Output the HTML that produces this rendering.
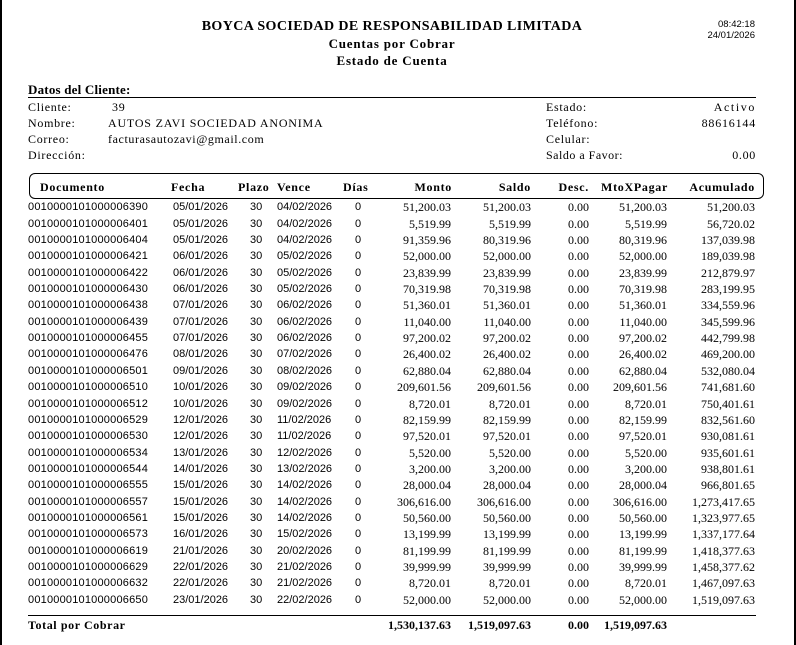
<!DOCTYPE html>
<html>
<head>
<meta charset="utf-8">
<style>
html,body{margin:0;padding:0;}
body{width:796px;height:645px;background:#fff;position:relative;overflow:hidden;color:#000;font-family:"Liberation Serif",serif;}
.a{position:absolute;white-space:nowrap;line-height:16px;}
.bl{position:absolute;left:0;top:0;width:2px;height:645px;background:#000;}
.br{position:absolute;left:794px;top:0;width:2px;height:645px;background:#000;}
.t1{left:0;width:784px;text-align:center;font-weight:bold;font-size:14px;letter-spacing:0.4px;}
.t2{left:0;width:784px;text-align:center;font-weight:bold;font-size:13px;letter-spacing:0.8px;}
.tm{font-family:"Liberation Sans",sans-serif;font-size:9.5px;right:41px;}
.lb{font-size:12px;letter-spacing:0.7px;}
.hline{position:absolute;height:1px;background:#000;}
.box{position:absolute;left:29px;top:173px;width:735px;height:26px;box-sizing:border-box;border:1px solid #000;border-radius:6px;}
.h{font-weight:bold;font-size:12px;letter-spacing:0.7px;top:178.7px;}
.r{position:absolute;left:0;width:796px;height:16px;}
.r span{position:absolute;white-space:nowrap;line-height:16px;top:0;}
.s{font-family:"Liberation Sans",sans-serif;font-size:11px;}
.d{left:28px;letter-spacing:0.2px;}
.f{left:173px;}
.p{left:250px;}
.v{left:277px;}
.di{left:355px;}
.n{font-family:"Liberation Serif",serif;font-size:12px;}
.m{right:345px;}
.sa{right:265px;}
.de{right:207px;}
.mx{right:129px;}
.ac{right:41px;}
.tot span{font-weight:bold;}
</style>
</head>
<body>
<div class="bl"></div>
<div class="br"></div>

<div class="a t1" style="top:19.2px;">BOYCA SOCIEDAD DE RESPONSABILIDAD LIMITADA</div>
<div class="a t2" style="top:36px;">Cuentas por Cobrar</div>
<div class="a t2" style="top:53.3px;">Estado de Cuenta</div>

<div class="a tm" style="top:17px;">08:42:18</div>
<div class="a tm" style="top:28px;">24/01/2026</div>

<div class="a" style="left:28px;top:82px;font-weight:bold;font-size:13px;letter-spacing:0.2px;">Datos del Cliente:</div>
<div class="hline" style="left:28px;top:97px;width:728px;"></div>

<div class="a lb" style="left:28px;top:99.3px;">Cliente:</div>
<div class="a lb" style="left:112px;top:99.3px;">39</div>
<div class="a lb" style="left:28px;top:115.3px;">Nombre:</div>
<div class="a lb" style="left:108px;top:115.3px;letter-spacing:0.8px;">AUTOS ZAVI SOCIEDAD ANONIMA</div>
<div class="a lb" style="left:28px;top:130.7px;">Correo:</div>
<div class="a lb" style="left:108px;top:130.7px;letter-spacing:0.6px;">facturasautozavi@gmail.com</div>
<div class="a lb" style="left:28px;top:146.7px;">Dirección:</div>

<div class="a lb" style="left:546px;top:99.3px;">Estado:</div>
<div class="a lb" style="right:40px;top:99.3px;letter-spacing:1.6px;">Activo</div>
<div class="a lb" style="left:546px;top:115.3px;">Teléfono:</div>
<div class="a lb" style="right:40px;top:115.3px;letter-spacing:0.8px;">88616144</div>
<div class="a lb" style="left:546px;top:130.7px;">Celular:</div>
<div class="a lb" style="left:546px;top:146.7px;letter-spacing:0.5px;">Saldo a Favor:</div>
<div class="a lb" style="right:40px;top:146.7px;">0.00</div>

<div class="box"></div>
<div class="a h" style="left:40px;">Documento</div>
<div class="a h" style="left:171px;">Fecha</div>
<div class="a h" style="left:238px;">Plazo</div>
<div class="a h" style="left:277px;">Vence</div>
<div class="a h" style="left:343px;">Días</div>
<div class="a h" style="right:344px;">Monto</div>
<div class="a h" style="right:265px;">Saldo</div>
<div class="a h" style="right:207px;">Desc.</div>
<div class="a h" style="right:128px;">MtoXPagar</div>
<div class="a h" style="right:41px;">Acumulado</div>

<div class="r" style="top:199.3px"><span class="s d">0010000101000006390</span><span class="s f">05/01/2026</span><span class="s p">30</span><span class="s v">04/02/2026</span><span class="s di">0</span><span class="n m">51,200.03</span><span class="n sa">51,200.03</span><span class="n de">0.00</span><span class="n mx">51,200.03</span><span class="n ac">51,200.03</span></div>
<div class="r" style="top:215.65px"><span class="s d">0010000101000006401</span><span class="s f">05/01/2026</span><span class="s p">30</span><span class="s v">04/02/2026</span><span class="s di">0</span><span class="n m">5,519.99</span><span class="n sa">5,519.99</span><span class="n de">0.00</span><span class="n mx">5,519.99</span><span class="n ac">56,720.02</span></div>
<div class="r" style="top:232px"><span class="s d">0010000101000006404</span><span class="s f">05/01/2026</span><span class="s p">30</span><span class="s v">04/02/2026</span><span class="s di">0</span><span class="n m">91,359.96</span><span class="n sa">80,319.96</span><span class="n de">0.00</span><span class="n mx">80,319.96</span><span class="n ac">137,039.98</span></div>
<div class="r" style="top:248.35px"><span class="s d">0010000101000006421</span><span class="s f">06/01/2026</span><span class="s p">30</span><span class="s v">05/02/2026</span><span class="s di">0</span><span class="n m">52,000.00</span><span class="n sa">52,000.00</span><span class="n de">0.00</span><span class="n mx">52,000.00</span><span class="n ac">189,039.98</span></div>
<div class="r" style="top:264.7px"><span class="s d">0010000101000006422</span><span class="s f">06/01/2026</span><span class="s p">30</span><span class="s v">05/02/2026</span><span class="s di">0</span><span class="n m">23,839.99</span><span class="n sa">23,839.99</span><span class="n de">0.00</span><span class="n mx">23,839.99</span><span class="n ac">212,879.97</span></div>
<div class="r" style="top:281.05px"><span class="s d">0010000101000006430</span><span class="s f">06/01/2026</span><span class="s p">30</span><span class="s v">05/02/2026</span><span class="s di">0</span><span class="n m">70,319.98</span><span class="n sa">70,319.98</span><span class="n de">0.00</span><span class="n mx">70,319.98</span><span class="n ac">283,199.95</span></div>
<div class="r" style="top:297.4px"><span class="s d">0010000101000006438</span><span class="s f">07/01/2026</span><span class="s p">30</span><span class="s v">06/02/2026</span><span class="s di">0</span><span class="n m">51,360.01</span><span class="n sa">51,360.01</span><span class="n de">0.00</span><span class="n mx">51,360.01</span><span class="n ac">334,559.96</span></div>
<div class="r" style="top:313.75px"><span class="s d">0010000101000006439</span><span class="s f">07/01/2026</span><span class="s p">30</span><span class="s v">06/02/2026</span><span class="s di">0</span><span class="n m">11,040.00</span><span class="n sa">11,040.00</span><span class="n de">0.00</span><span class="n mx">11,040.00</span><span class="n ac">345,599.96</span></div>
<div class="r" style="top:330.1px"><span class="s d">0010000101000006455</span><span class="s f">07/01/2026</span><span class="s p">30</span><span class="s v">06/02/2026</span><span class="s di">0</span><span class="n m">97,200.02</span><span class="n sa">97,200.02</span><span class="n de">0.00</span><span class="n mx">97,200.02</span><span class="n ac">442,799.98</span></div>
<div class="r" style="top:346.45px"><span class="s d">0010000101000006476</span><span class="s f">08/01/2026</span><span class="s p">30</span><span class="s v">07/02/2026</span><span class="s di">0</span><span class="n m">26,400.02</span><span class="n sa">26,400.02</span><span class="n de">0.00</span><span class="n mx">26,400.02</span><span class="n ac">469,200.00</span></div>
<div class="r" style="top:362.8px"><span class="s d">0010000101000006501</span><span class="s f">09/01/2026</span><span class="s p">30</span><span class="s v">08/02/2026</span><span class="s di">0</span><span class="n m">62,880.04</span><span class="n sa">62,880.04</span><span class="n de">0.00</span><span class="n mx">62,880.04</span><span class="n ac">532,080.04</span></div>
<div class="r" style="top:379.15px"><span class="s d">0010000101000006510</span><span class="s f">10/01/2026</span><span class="s p">30</span><span class="s v">09/02/2026</span><span class="s di">0</span><span class="n m">209,601.56</span><span class="n sa">209,601.56</span><span class="n de">0.00</span><span class="n mx">209,601.56</span><span class="n ac">741,681.60</span></div>
<div class="r" style="top:395.5px"><span class="s d">0010000101000006512</span><span class="s f">10/01/2026</span><span class="s p">30</span><span class="s v">09/02/2026</span><span class="s di">0</span><span class="n m">8,720.01</span><span class="n sa">8,720.01</span><span class="n de">0.00</span><span class="n mx">8,720.01</span><span class="n ac">750,401.61</span></div>
<div class="r" style="top:411.85px"><span class="s d">0010000101000006529</span><span class="s f">12/01/2026</span><span class="s p">30</span><span class="s v">11/02/2026</span><span class="s di">0</span><span class="n m">82,159.99</span><span class="n sa">82,159.99</span><span class="n de">0.00</span><span class="n mx">82,159.99</span><span class="n ac">832,561.60</span></div>
<div class="r" style="top:428.2px"><span class="s d">0010000101000006530</span><span class="s f">12/01/2026</span><span class="s p">30</span><span class="s v">11/02/2026</span><span class="s di">0</span><span class="n m">97,520.01</span><span class="n sa">97,520.01</span><span class="n de">0.00</span><span class="n mx">97,520.01</span><span class="n ac">930,081.61</span></div>
<div class="r" style="top:444.55px"><span class="s d">0010000101000006534</span><span class="s f">13/01/2026</span><span class="s p">30</span><span class="s v">12/02/2026</span><span class="s di">0</span><span class="n m">5,520.00</span><span class="n sa">5,520.00</span><span class="n de">0.00</span><span class="n mx">5,520.00</span><span class="n ac">935,601.61</span></div>
<div class="r" style="top:460.9px"><span class="s d">0010000101000006544</span><span class="s f">14/01/2026</span><span class="s p">30</span><span class="s v">13/02/2026</span><span class="s di">0</span><span class="n m">3,200.00</span><span class="n sa">3,200.00</span><span class="n de">0.00</span><span class="n mx">3,200.00</span><span class="n ac">938,801.61</span></div>
<div class="r" style="top:477.25px"><span class="s d">0010000101000006555</span><span class="s f">15/01/2026</span><span class="s p">30</span><span class="s v">14/02/2026</span><span class="s di">0</span><span class="n m">28,000.04</span><span class="n sa">28,000.04</span><span class="n de">0.00</span><span class="n mx">28,000.04</span><span class="n ac">966,801.65</span></div>
<div class="r" style="top:493.6px"><span class="s d">0010000101000006557</span><span class="s f">15/01/2026</span><span class="s p">30</span><span class="s v">14/02/2026</span><span class="s di">0</span><span class="n m">306,616.00</span><span class="n sa">306,616.00</span><span class="n de">0.00</span><span class="n mx">306,616.00</span><span class="n ac">1,273,417.65</span></div>
<div class="r" style="top:509.95px"><span class="s d">0010000101000006561</span><span class="s f">15/01/2026</span><span class="s p">30</span><span class="s v">14/02/2026</span><span class="s di">0</span><span class="n m">50,560.00</span><span class="n sa">50,560.00</span><span class="n de">0.00</span><span class="n mx">50,560.00</span><span class="n ac">1,323,977.65</span></div>
<div class="r" style="top:526.3px"><span class="s d">0010000101000006573</span><span class="s f">16/01/2026</span><span class="s p">30</span><span class="s v">15/02/2026</span><span class="s di">0</span><span class="n m">13,199.99</span><span class="n sa">13,199.99</span><span class="n de">0.00</span><span class="n mx">13,199.99</span><span class="n ac">1,337,177.64</span></div>
<div class="r" style="top:542.65px"><span class="s d">0010000101000006619</span><span class="s f">21/01/2026</span><span class="s p">30</span><span class="s v">20/02/2026</span><span class="s di">0</span><span class="n m">81,199.99</span><span class="n sa">81,199.99</span><span class="n de">0.00</span><span class="n mx">81,199.99</span><span class="n ac">1,418,377.63</span></div>
<div class="r" style="top:559px"><span class="s d">0010000101000006629</span><span class="s f">22/01/2026</span><span class="s p">30</span><span class="s v">21/02/2026</span><span class="s di">0</span><span class="n m">39,999.99</span><span class="n sa">39,999.99</span><span class="n de">0.00</span><span class="n mx">39,999.99</span><span class="n ac">1,458,377.62</span></div>
<div class="r" style="top:575.35px"><span class="s d">0010000101000006632</span><span class="s f">22/01/2026</span><span class="s p">30</span><span class="s v">21/02/2026</span><span class="s di">0</span><span class="n m">8,720.01</span><span class="n sa">8,720.01</span><span class="n de">0.00</span><span class="n mx">8,720.01</span><span class="n ac">1,467,097.63</span></div>
<div class="r" style="top:591.7px"><span class="s d">0010000101000006650</span><span class="s f">23/01/2026</span><span class="s p">30</span><span class="s v">22/02/2026</span><span class="s di">0</span><span class="n m">52,000.00</span><span class="n sa">52,000.00</span><span class="n de">0.00</span><span class="n mx">52,000.00</span><span class="n ac">1,519,097.63</span></div>

<div class="hline" style="left:28px;top:615px;width:728px;"></div>
<div class="r tot" style="top:617px"><span class="n" style="left:28px;letter-spacing:0.6px;">Total por Cobrar</span><span class="n m">1,530,137.63</span><span class="n sa">1,519,097.63</span><span class="n de">0.00</span><span class="n mx">1,519,097.63</span></div>
</body>
</html>
